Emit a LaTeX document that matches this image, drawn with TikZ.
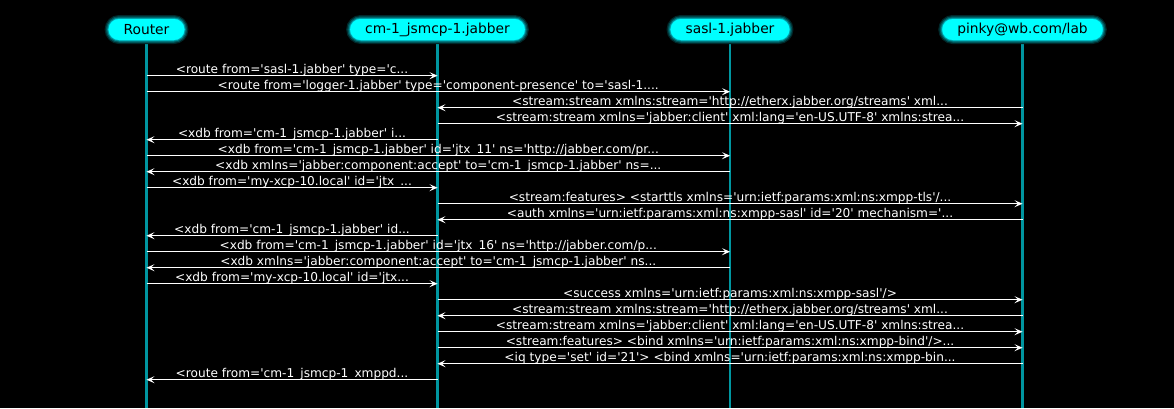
\documentclass[tikz,border=0pt]{standalone}
\usepackage{fontspec}
\newfontfamily\dv{DejaVu Sans}
\usetikzlibrary{arrows.meta}
\definecolor{lifecol}{RGB}{0,150,160}
\definecolor{aqua}{RGB}{0,255,255}
\definecolor{glowA}{RGB}{0,40,42}
\definecolor{glowB}{RGB}{0,85,90}
\definecolor{glowC}{RGB}{0,140,148}
\definecolor{glowD}{RGB}{0,200,210}
\newcommand\msgline[5]{% #1 id, #2 from, #3 to, #4 y, #5 text
  \path (#2 |- 0,#4) coordinate (m#1a) (#3 |- 0,#4) coordinate (m#1b);
  \draw[msg] (m#1a) -- node[lbl]{#5} (m#1b);}
\begin{document}
\begin{tikzpicture}[x=1pt,y=-1pt,
  font=\dv\fontsize{12.15}{14}\selectfont,
  hdr/.style={fill=aqua, rounded corners=10.5pt, minimum height=21pt,
    inner xsep=15pt, inner ysep=0pt, text=black,
    font=\dv\fontsize{13.8}{16}\selectfont,
    preaction={draw=glowA, line width=8pt},
    preaction={draw=glowB, line width=5.5pt},
    preaction={draw=glowC, line width=3pt},
    preaction={draw=glowD, line width=1pt}},
  life/.style={draw=lifecol, line width=2.5pt},
  msg/.style={draw=white, line width=1pt, -{Stealth[length=8pt,width=7pt,inset=3.5pt]}},
  lbl/.style={midway, text=white, anchor=base, inner sep=0pt, yshift=2.5pt}]
\fill[black] (0,0) rectangle (1174,408);
\useasboundingbox (0,0) rectangle (1174,408);
% lifeline ends
\coordinate (Rt) at (146.5,30); \coordinate (Rb) at (146.5,408);
\coordinate (Ct) at (437.5,30); \coordinate (Cb) at (437.5,408);
\coordinate (St) at (730,30);   \coordinate (Sb) at (730,408);
\coordinate (Pt) at (1022.5,30); \coordinate (Pb) at (1022.5,408);
\draw[life] (Rt) -- (Rb);
\draw[life] (Ct) -- (Cb);
\draw[life] (St) -- (Sb);
\draw[life] (Pt) -- (Pb);
% participants
\node[hdr] (R) at (146.5,29.5) {Router};
\node[hdr] (C) at (437.5,29.5) {cm-1\_jsmcp-1.jabber};
\node[hdr] (S) at (730,29.5) {sasl-1.jabber};
\node[hdr] (P) at (1022.5,29.5) {pinky@wb.com/lab};
% messages
\msgline{1}{R}{C}{75.7}{<route from='sasl-1.jabber' type='c...}
\msgline{2}{R}{S}{91.7}{<route from='logger-1.jabber' type='component-presence' to='sasl-1....}
\msgline{3}{P}{C}{107.7}{<stream:stream xmlns:stream='http://etherx.jabber.org/streams' xml...}
\msgline{4}{C}{P}{123.7}{<stream:stream xmlns='jabber:client' xml:lang='en-US.UTF-8' xmlns:strea...}
\msgline{5}{C}{R}{139.7}{<xdb from='cm-1\_jsmcp-1.jabber' i...}
\msgline{6}{R}{S}{155.7}{<xdb from='cm-1\_jsmcp-1.jabber' id='jtx\_11' ns='http://jabber.com/pr...}
\msgline{7}{S}{R}{171.7}{<xdb xmlns='jabber:component:accept' to='cm-1\_jsmcp-1.jabber' ns=...}
\msgline{8}{R}{C}{187.7}{<xdb from='my-xcp-10.local' id='jtx\_...}
\msgline{9}{C}{P}{203.7}{<stream:features> <starttls xmlns='urn:ietf:params:xml:ns:xmpp-tls'/...}
\msgline{10}{P}{C}{219.7}{<auth xmlns='urn:ietf:params:xml:ns:xmpp-sasl' id='20' mechanism='...}
\msgline{11}{C}{R}{235.7}{<xdb from='cm-1\_jsmcp-1.jabber' id...}
\msgline{12}{R}{S}{251.7}{<xdb from='cm-1\_jsmcp-1.jabber' id='jtx\_16' ns='http://jabber.com/p...}
\msgline{13}{S}{R}{267.7}{<xdb xmlns='jabber:component:accept' to='cm-1\_jsmcp-1.jabber' ns...}
\msgline{14}{R}{C}{283.7}{<xdb from='my-xcp-10.local' id='jtx...}
\msgline{15}{C}{P}{299.7}{<success xmlns='urn:ietf:params:xml:ns:xmpp-sasl'/>}
\msgline{16}{P}{C}{315.7}{<stream:stream xmlns:stream='http://etherx.jabber.org/streams' xml...}
\msgline{17}{C}{P}{331.7}{<stream:stream xmlns='jabber:client' xml:lang='en-US.UTF-8' xmlns:strea...}
\msgline{18}{C}{P}{347.7}{<stream:features> <bind xmlns='urn:ietf:params:xml:ns:xmpp-bind'/>...}
\msgline{19}{P}{C}{363.7}{<iq type='set' id='21'> <bind xmlns='urn:ietf:params:xml:ns:xmpp-bin...}
\msgline{20}{C}{R}{379.7}{<route from='cm-1\_jsmcp-1\_xmppd...}
\end{tikzpicture}
\end{document}
